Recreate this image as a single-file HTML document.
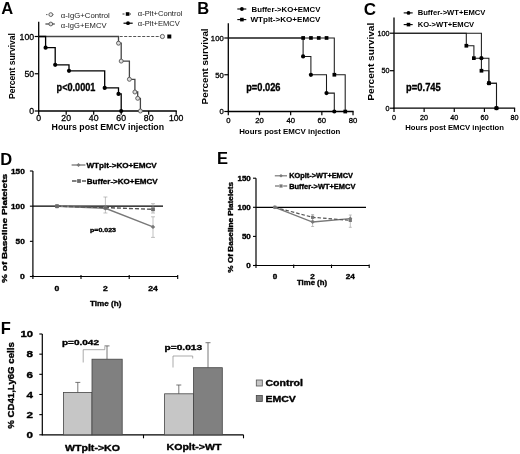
<!DOCTYPE html>
<html lang="en">
<head>
<meta charset="utf-8">
<title>Figure</title>
<style>html,body{margin:0;padding:0;background:#fff}svg{display:block;filter:blur(0.3px)}</style>
</head>
<body>
<svg width="520" height="454" viewBox="0 0 520 454" font-family="Liberation Sans, Arial, sans-serif">
<rect width="520" height="454" fill="#fff"/>
<text x="1.2" y="13.8" font-size="16.5" font-weight="bold" text-anchor="start" fill="#000" >A</text>
<text x="197.2" y="13.8" font-size="16.5" font-weight="bold" text-anchor="start" fill="#000" >B</text>
<text x="363.8" y="14.7" font-size="17" font-weight="bold" text-anchor="start" fill="#000" >C</text>
<text x="0.2" y="164.7" font-size="16.5" font-weight="bold" text-anchor="start" fill="#000" >D</text>
<text x="217" y="164.3" font-size="16.5" font-weight="bold" text-anchor="start" fill="#000" >E</text>
<text x="0.8" y="333.9" font-size="16.5" font-weight="bold" text-anchor="start" fill="#000" >F</text>
<line x1="38.7" y1="21.8" x2="38.7" y2="111.6" stroke="#000" stroke-width="1.3" />
<line x1="38.1" y1="111" x2="176.79999999999998" y2="111" stroke="#000" stroke-width="1.3" />
<line x1="34.7" y1="111.0" x2="38.7" y2="111.0" stroke="#000" stroke-width="1.2" />
<text x="34.1" y="114.1" font-size="8.7" font-weight="normal" text-anchor="end" fill="#000" stroke="#000" stroke-width="0.3">0</text>
<line x1="34.7" y1="73.75" x2="38.7" y2="73.75" stroke="#000" stroke-width="1.2" />
<text x="34.1" y="76.8" font-size="8.7" font-weight="normal" text-anchor="end" fill="#000" stroke="#000" stroke-width="0.3">50</text>
<line x1="34.7" y1="36.5" x2="38.7" y2="36.5" stroke="#000" stroke-width="1.2" />
<text x="34.1" y="39.6" font-size="8.7" font-weight="normal" text-anchor="end" fill="#000" stroke="#000" stroke-width="0.3">100</text>
<line x1="38.7" y1="111" x2="38.7" y2="114.8" stroke="#000" stroke-width="1.2" />
<text x="38.7" y="121.3" font-size="8.7" font-weight="normal" text-anchor="middle" fill="#000" stroke="#000" stroke-width="0.3">0</text>
<line x1="66.2" y1="111" x2="66.2" y2="114.8" stroke="#000" stroke-width="1.2" />
<text x="66.2" y="121.3" font-size="8.7" font-weight="normal" text-anchor="middle" fill="#000" stroke="#000" stroke-width="0.3">20</text>
<line x1="93.7" y1="111" x2="93.7" y2="114.8" stroke="#000" stroke-width="1.2" />
<text x="93.7" y="121.3" font-size="8.7" font-weight="normal" text-anchor="middle" fill="#000" stroke="#000" stroke-width="0.3">40</text>
<line x1="121.2" y1="111" x2="121.2" y2="114.8" stroke="#000" stroke-width="1.2" />
<text x="121.2" y="121.3" font-size="8.7" font-weight="normal" text-anchor="middle" fill="#000" stroke="#000" stroke-width="0.3">60</text>
<line x1="148.7" y1="111" x2="148.7" y2="114.8" stroke="#000" stroke-width="1.2" />
<text x="148.7" y="121.3" font-size="8.7" font-weight="normal" text-anchor="middle" fill="#000" stroke="#000" stroke-width="0.3">80</text>
<line x1="176.2" y1="111" x2="176.2" y2="114.8" stroke="#000" stroke-width="1.2" />
<text x="176.2" y="121.3" font-size="8.7" font-weight="normal" text-anchor="middle" fill="#000" stroke="#000" stroke-width="0.3">100</text>
<text x="14.5" y="66" font-size="8.6" font-weight="bold" text-anchor="middle" fill="#000" textLength="66" lengthAdjust="spacingAndGlyphs" transform="rotate(-90 14.5 66)" >Percent survival</text>
<text x="107.8" y="130.3" font-size="8.8" font-weight="bold" text-anchor="middle" fill="#000" textLength="112.5" lengthAdjust="spacingAndGlyphs" >Hours post EMCV injection</text>
<line x1="38.7" y1="36.5" x2="162.45" y2="36.5" stroke="#555" stroke-width="1" stroke-dasharray="3 1.5"/>
<path d="M38.7,36.5 H118.5 V43.2 H121.2 V61.1 H129.4 V79.3 H134.9 V92.0 H137.7 V98.3 H140.4 V111.0" fill="none" stroke="#444" stroke-width="1.3"/>
<circle cx="118.5" cy="43.2" r="2" fill="#ddd" stroke="#555" stroke-width="0.9"/>
<circle cx="121.2" cy="61.1" r="2" fill="#ddd" stroke="#555" stroke-width="0.9"/>
<circle cx="129.4" cy="79.3" r="2" fill="#ddd" stroke="#555" stroke-width="0.9"/>
<circle cx="134.9" cy="92.0" r="2" fill="#ddd" stroke="#555" stroke-width="0.9"/>
<circle cx="137.7" cy="98.3" r="2" fill="#ddd" stroke="#555" stroke-width="0.9"/>
<circle cx="140.4" cy="111.0" r="2" fill="#ddd" stroke="#555" stroke-width="0.9"/>
<path d="M38.7,36.5 H45.6 V47.7 H55.2 V64.8 H69.0 V70.8 H104.7 V87.9 H118.5 V93.9 H121.2 V111.0" fill="none" stroke="#000" stroke-width="1.3"/>
<circle cx="45.6" cy="47.7" r="2.1" fill="#000" stroke="none" stroke-width="1"/>
<circle cx="55.2" cy="64.8" r="2.1" fill="#000" stroke="none" stroke-width="1"/>
<circle cx="69.0" cy="70.8" r="2.1" fill="#000" stroke="none" stroke-width="1"/>
<circle cx="104.7" cy="87.9" r="2.1" fill="#000" stroke="none" stroke-width="1"/>
<circle cx="118.5" cy="93.9" r="2.1" fill="#000" stroke="none" stroke-width="1"/>
<circle cx="121.2" cy="111.0" r="2.1" fill="#000" stroke="none" stroke-width="1"/>
<circle cx="162.4" cy="36.5" r="2.1" fill="#eee" stroke="#555" stroke-width="0.9"/>
<rect x="167.3" y="34.5" width="4" height="4" fill="#000" stroke="none" stroke-width="1"/>
<line x1="46" y1="14.6" x2="55" y2="14.6" stroke="#666" stroke-width="1" stroke-dasharray="1.5 1.5"/>
<circle cx="50.8" cy="14.6" r="1.9" fill="#eee" stroke="#555" stroke-width="0.9"/>
<line x1="45.4" y1="24" x2="54.8" y2="24" stroke="#444" stroke-width="1.2" />
<circle cx="50.8" cy="24.0" r="1.9" fill="#ddd" stroke="#555" stroke-width="0.9"/>
<text x="60.8" y="17.5" font-size="7.7" font-weight="normal" text-anchor="start" fill="#222" textLength="49" lengthAdjust="spacingAndGlyphs" >α-IgG+Control</text>
<text x="60.8" y="27.7" font-size="7.7" font-weight="normal" text-anchor="start" fill="#222" textLength="45.7" lengthAdjust="spacingAndGlyphs" >α-IgG+EMCV</text>
<line x1="122.5" y1="14" x2="131" y2="14" stroke="#333" stroke-width="1" stroke-dasharray="2 1.5"/>
<rect x="125.8" y="12.2" width="3.6" height="3.6" fill="#000" stroke="none" stroke-width="1"/>
<line x1="123.5" y1="23.2" x2="132.7" y2="23.2" stroke="#000" stroke-width="1.2" />
<circle cx="128.0" cy="23.2" r="1.9" fill="#000" stroke="none" stroke-width="1"/>
<text x="137.8" y="16.4" font-size="7.6" font-weight="normal" text-anchor="start" fill="#222" textLength="44.6" lengthAdjust="spacingAndGlyphs" >α-Plt+Control</text>
<text x="137.8" y="25.8" font-size="7.6" font-weight="normal" text-anchor="start" fill="#222" textLength="42" lengthAdjust="spacingAndGlyphs" >α-Plt+EMCV</text>
<text x="56.6" y="91.1" font-size="11.4" font-weight="bold" text-anchor="start" fill="#000" textLength="38.8" lengthAdjust="spacingAndGlyphs" stroke="#000" stroke-width="0.35" stroke-linejoin="round">p&lt;0.0001</text>
<line x1="228.3" y1="23.2" x2="228.3" y2="112.1" stroke="#000" stroke-width="1.3" />
<line x1="227.70000000000002" y1="111.5" x2="353.62" y2="111.5" stroke="#000" stroke-width="1.3" />
<line x1="224.3" y1="111.5" x2="228.3" y2="111.5" stroke="#000" stroke-width="1.2" />
<text x="223.70000000000002" y="114.3" font-size="7.7" font-weight="normal" text-anchor="end" fill="#000" stroke="#000" stroke-width="0.3">0</text>
<line x1="224.3" y1="74.75" x2="228.3" y2="74.75" stroke="#000" stroke-width="1.2" />
<text x="223.70000000000002" y="77.5" font-size="7.7" font-weight="normal" text-anchor="end" fill="#000" stroke="#000" stroke-width="0.3">50</text>
<line x1="224.3" y1="38.0" x2="228.3" y2="38.0" stroke="#000" stroke-width="1.2" />
<text x="223.70000000000002" y="40.8" font-size="7.7" font-weight="normal" text-anchor="end" fill="#000" stroke="#000" stroke-width="0.3">100</text>
<line x1="228.3" y1="111.5" x2="228.3" y2="115.3" stroke="#000" stroke-width="1.2" />
<text x="228.3" y="122.9" font-size="7.7" font-weight="normal" text-anchor="middle" fill="#000" stroke="#000" stroke-width="0.3">0</text>
<line x1="259.48" y1="111.5" x2="259.48" y2="115.3" stroke="#000" stroke-width="1.2" />
<text x="259.5" y="122.9" font-size="7.7" font-weight="normal" text-anchor="middle" fill="#000" stroke="#000" stroke-width="0.3">20</text>
<line x1="290.66" y1="111.5" x2="290.66" y2="115.3" stroke="#000" stroke-width="1.2" />
<text x="290.7" y="122.9" font-size="7.7" font-weight="normal" text-anchor="middle" fill="#000" stroke="#000" stroke-width="0.3">40</text>
<line x1="321.84000000000003" y1="111.5" x2="321.84000000000003" y2="115.3" stroke="#000" stroke-width="1.2" />
<text x="321.8" y="122.9" font-size="7.7" font-weight="normal" text-anchor="middle" fill="#000" stroke="#000" stroke-width="0.3">60</text>
<line x1="353.02" y1="111.5" x2="353.02" y2="115.3" stroke="#000" stroke-width="1.2" />
<text x="353.0" y="122.9" font-size="7.7" font-weight="normal" text-anchor="middle" fill="#000" stroke="#000" stroke-width="0.3">80</text>
<text x="208" y="66.4" font-size="9.2" font-weight="bold" text-anchor="middle" fill="#000" textLength="76" lengthAdjust="spacingAndGlyphs" transform="rotate(-90 208 66.4)" >Percent survival</text>
<text x="289.8" y="133.7" font-size="8" font-weight="bold" text-anchor="middle" fill="#000" textLength="101.3" lengthAdjust="spacingAndGlyphs" >Hours post EMCV injection</text>
<path d="M228.3,38.0 H303.1 V56.4 H310.9 V74.8 H326.5 V93.1 H334.3 V111.5" fill="none" stroke="#1a1a1a" stroke-width="1.05"/>
<circle cx="303.1" cy="56.4" r="2.1" fill="#000" stroke="none" stroke-width="1"/>
<circle cx="310.9" cy="74.8" r="2.1" fill="#000" stroke="none" stroke-width="1"/>
<circle cx="326.5" cy="93.1" r="2.1" fill="#000" stroke="none" stroke-width="1"/>
<circle cx="334.3" cy="111.5" r="2.1" fill="#000" stroke="none" stroke-width="1"/>
<path d="M228.3,38.0 H334.3 V74.8 H345.2 V111.5" fill="none" stroke="#1a1a1a" stroke-width="1.05"/>
<rect x="301.3" y="36.1" width="3.7" height="3.7" fill="#000" stroke="none" stroke-width="1"/>
<rect x="309.1" y="36.1" width="3.7" height="3.7" fill="#000" stroke="none" stroke-width="1"/>
<rect x="316.9" y="36.1" width="3.7" height="3.7" fill="#000" stroke="none" stroke-width="1"/>
<rect x="324.7" y="36.1" width="3.7" height="3.7" fill="#000" stroke="none" stroke-width="1"/>
<rect x="332.5" y="72.9" width="3.7" height="3.7" fill="#000" stroke="none" stroke-width="1"/>
<rect x="343.4" y="109.7" width="3.7" height="3.7" fill="#000" stroke="none" stroke-width="1"/>
<line x1="237.3" y1="9" x2="246.3" y2="9" stroke="#000" stroke-width="1.1" />
<circle cx="241.9" cy="9.0" r="1.9" fill="#000" stroke="none" stroke-width="1"/>
<line x1="237.3" y1="19.6" x2="246.3" y2="19.6" stroke="#000" stroke-width="1.1" />
<rect x="240.1" y="17.8" width="3.6" height="3.6" fill="#000" stroke="none" stroke-width="1"/>
<text x="251.5" y="11.9" font-size="7.9" font-weight="bold" text-anchor="start" fill="#000" textLength="68.9" lengthAdjust="spacingAndGlyphs" >Buffer-&gt;KO+EMCV</text>
<text x="250.4" y="22.1" font-size="7.9" font-weight="bold" text-anchor="start" fill="#000" textLength="70" lengthAdjust="spacingAndGlyphs" >WTplt-&gt;KO+EMCV</text>
<text x="246.2" y="90.8" font-size="11.4" font-weight="bold" text-anchor="start" fill="#000" textLength="34.3" lengthAdjust="spacingAndGlyphs" stroke="#000" stroke-width="0.35" stroke-linejoin="round">p=0.026</text>
<line x1="394" y1="17.6" x2="394" y2="108.8" stroke="#000" stroke-width="1.3" />
<line x1="393.4" y1="108.2" x2="515.16" y2="108.2" stroke="#000" stroke-width="1.3" />
<line x1="390" y1="108.2" x2="394" y2="108.2" stroke="#000" stroke-width="1.2" />
<text x="389.4" y="110.8" font-size="7.2" font-weight="normal" text-anchor="end" fill="#000" stroke="#000" stroke-width="0.3">0</text>
<line x1="390" y1="70.7" x2="394" y2="70.7" stroke="#000" stroke-width="1.2" />
<text x="389.4" y="73.3" font-size="7.2" font-weight="normal" text-anchor="end" fill="#000" stroke="#000" stroke-width="0.3">50</text>
<line x1="390" y1="33.2" x2="394" y2="33.2" stroke="#000" stroke-width="1.2" />
<text x="389.4" y="35.8" font-size="7.2" font-weight="normal" text-anchor="end" fill="#000" stroke="#000" stroke-width="0.3">100</text>
<line x1="394.0" y1="108.2" x2="394.0" y2="112.0" stroke="#000" stroke-width="1.2" />
<text x="394.0" y="119.6" font-size="7.2" font-weight="normal" text-anchor="middle" fill="#000" stroke="#000" stroke-width="0.3">0</text>
<line x1="424.14" y1="108.2" x2="424.14" y2="112.0" stroke="#000" stroke-width="1.2" />
<text x="424.1" y="119.6" font-size="7.2" font-weight="normal" text-anchor="middle" fill="#000" stroke="#000" stroke-width="0.3">20</text>
<line x1="454.28" y1="108.2" x2="454.28" y2="112.0" stroke="#000" stroke-width="1.2" />
<text x="454.3" y="119.6" font-size="7.2" font-weight="normal" text-anchor="middle" fill="#000" stroke="#000" stroke-width="0.3">40</text>
<line x1="484.41999999999996" y1="108.2" x2="484.41999999999996" y2="112.0" stroke="#000" stroke-width="1.2" />
<text x="484.4" y="119.6" font-size="7.2" font-weight="normal" text-anchor="middle" fill="#000" stroke="#000" stroke-width="0.3">60</text>
<line x1="514.56" y1="108.2" x2="514.56" y2="112.0" stroke="#000" stroke-width="1.2" />
<text x="514.6" y="119.6" font-size="7.2" font-weight="normal" text-anchor="middle" fill="#000" stroke="#000" stroke-width="0.3">80</text>
<text x="373.9" y="61.7" font-size="9.2" font-weight="bold" text-anchor="middle" fill="#000" textLength="78" lengthAdjust="spacingAndGlyphs" transform="rotate(-90 373.9 61.7)" >Percent survival</text>
<text x="454.6" y="129.8" font-size="7.8" font-weight="bold" text-anchor="middle" fill="#000" textLength="98.8" lengthAdjust="spacingAndGlyphs" >Hours post EMCV injection</text>
<path d="M394,33.2 H466.3 V45.7 H473.9 V58.2 H481.4 V70.7 H488.9 V83.2 H496.5 V108.2" fill="none" stroke="#1a1a1a" stroke-width="1.05"/>
<path d="M394,33.2 H481.4 V58.2 H488.9 V83.2 H496.5 V108.2" fill="none" stroke="#1a1a1a" stroke-width="1.05"/>
<rect x="464.5" y="43.9" width="3.7" height="3.7" fill="#000" stroke="none" stroke-width="1"/>
<rect x="472.0" y="56.3" width="3.7" height="3.7" fill="#000" stroke="none" stroke-width="1"/>
<rect x="479.6" y="68.9" width="3.7" height="3.7" fill="#000" stroke="none" stroke-width="1"/>
<rect x="487.1" y="81.4" width="3.7" height="3.7" fill="#000" stroke="none" stroke-width="1"/>
<rect x="494.6" y="106.4" width="3.7" height="3.7" fill="#000" stroke="none" stroke-width="1"/>
<circle cx="481.4" cy="58.2" r="2.1" fill="#000" stroke="none" stroke-width="1"/>
<circle cx="488.9" cy="83.2" r="2.1" fill="#000" stroke="none" stroke-width="1"/>
<circle cx="496.5" cy="108.2" r="2.1" fill="#000" stroke="none" stroke-width="1"/>
<line x1="403.7" y1="12.9" x2="412.7" y2="12.9" stroke="#000" stroke-width="1.1" />
<circle cx="408.5" cy="12.9" r="1.9" fill="#000" stroke="none" stroke-width="1"/>
<line x1="403.7" y1="24.6" x2="412.7" y2="24.6" stroke="#000" stroke-width="1.1" />
<rect x="406.7" y="22.8" width="3.6" height="3.6" fill="#000" stroke="none" stroke-width="1"/>
<text x="417.7" y="15.4" font-size="7.7" font-weight="bold" text-anchor="start" fill="#000" textLength="67.7" lengthAdjust="spacingAndGlyphs" >Buffer-&gt;WT+EMCV</text>
<text x="417.7" y="27.3" font-size="7.7" font-weight="bold" text-anchor="start" fill="#000" textLength="56.5" lengthAdjust="spacingAndGlyphs" >KO-&gt;WT+EMCV</text>
<text x="406.1" y="90.8" font-size="11.4" font-weight="bold" text-anchor="start" fill="#000" textLength="34.7" lengthAdjust="spacingAndGlyphs" stroke="#000" stroke-width="0.35" stroke-linejoin="round">p=0.745</text>
<line x1="32.9" y1="171" x2="32.9" y2="277.0" stroke="#000" stroke-width="1.2" />
<line x1="32.4" y1="276.5" x2="178" y2="276.5" stroke="#000" stroke-width="1.2" />
<line x1="29.9" y1="276.5" x2="32.9" y2="276.5" stroke="#000" stroke-width="1.1" />
<text x="24.8" y="279.2" font-size="7.4" font-weight="bold" text-anchor="end" fill="#000" textLength="4.8" lengthAdjust="spacingAndGlyphs" stroke="#000" stroke-width="0.35" stroke-linejoin="round">0</text>
<line x1="29.9" y1="241.33333333333331" x2="32.9" y2="241.33333333333331" stroke="#000" stroke-width="1.1" />
<text x="24.8" y="244.0" font-size="7.4" font-weight="bold" text-anchor="end" fill="#000" textLength="9.2" lengthAdjust="spacingAndGlyphs" stroke="#000" stroke-width="0.35" stroke-linejoin="round">50</text>
<line x1="29.9" y1="206.16666666666666" x2="32.9" y2="206.16666666666666" stroke="#000" stroke-width="1.1" />
<text x="24.8" y="208.9" font-size="7.4" font-weight="bold" text-anchor="end" fill="#000" textLength="13.8" lengthAdjust="spacingAndGlyphs" stroke="#000" stroke-width="0.35" stroke-linejoin="round">100</text>
<line x1="29.9" y1="171.0" x2="32.9" y2="171.0" stroke="#000" stroke-width="1.1" />
<text x="24.8" y="173.7" font-size="7.4" font-weight="bold" text-anchor="end" fill="#000" textLength="13.8" lengthAdjust="spacingAndGlyphs" stroke="#000" stroke-width="0.35" stroke-linejoin="round">150</text>
<line x1="32.9" y1="275.0" x2="32.9" y2="279.0" stroke="#000" stroke-width="1.1" />
<line x1="81" y1="275.0" x2="81" y2="279.0" stroke="#000" stroke-width="1.1" />
<line x1="129.2" y1="275.0" x2="129.2" y2="279.0" stroke="#000" stroke-width="1.1" />
<line x1="177.7" y1="275.0" x2="177.7" y2="279.0" stroke="#000" stroke-width="1.1" />
<text x="57" y="291.4" font-size="7.4" font-weight="bold" text-anchor="middle" fill="#000" textLength="4.8" lengthAdjust="spacingAndGlyphs" stroke="#000" stroke-width="0.35" stroke-linejoin="round">0</text>
<text x="105.4" y="291.4" font-size="7.4" font-weight="bold" text-anchor="middle" fill="#000" textLength="4.8" lengthAdjust="spacingAndGlyphs" stroke="#000" stroke-width="0.35" stroke-linejoin="round">2</text>
<text x="153" y="291.4" font-size="7.4" font-weight="bold" text-anchor="middle" fill="#000" textLength="9.6" lengthAdjust="spacingAndGlyphs" stroke="#000" stroke-width="0.35" stroke-linejoin="round">24</text>
<text x="105.7" y="306" font-size="7.8" font-weight="bold" text-anchor="middle" fill="#000" textLength="31.4" lengthAdjust="spacingAndGlyphs" stroke="#000" stroke-width="0.35" stroke-linejoin="round">Time (h)</text>
<text x="7.5" y="228.4" font-size="8" font-weight="bold" text-anchor="middle" fill="#000" textLength="109" lengthAdjust="spacingAndGlyphs" transform="rotate(-90 7.5 228.4)" stroke="#000" stroke-width="0.35" stroke-linejoin="round">% of Baseline Platelets</text>
<line x1="32.9" y1="206.16666666666666" x2="163" y2="206.16666666666666" stroke="#000" stroke-width="1.3" />
<line x1="105.4" y1="197" x2="105.4" y2="213" stroke="#999" stroke-width="0.6" />
<line x1="103.4" y1="197" x2="107.4" y2="197" stroke="#999" stroke-width="0.6" />
<line x1="103.4" y1="213" x2="107.4" y2="213" stroke="#999" stroke-width="0.6" />
<line x1="153" y1="216.8" x2="153" y2="237.4" stroke="#999" stroke-width="0.6" />
<line x1="151" y1="216.8" x2="155" y2="216.8" stroke="#999" stroke-width="0.6" />
<line x1="151" y1="237.4" x2="155" y2="237.4" stroke="#999" stroke-width="0.6" />
<line x1="153" y1="203.7" x2="153" y2="213" stroke="#999" stroke-width="0.6" />
<line x1="151" y1="203.7" x2="155" y2="203.7" stroke="#999" stroke-width="0.6" />
<line x1="151" y1="213" x2="155" y2="213" stroke="#999" stroke-width="0.6" />
<polyline points="57,206.2 105.4,208.3 153,226.9" fill="none" stroke="#787878" stroke-width="1.4"/>
<polyline points="57,206.2 105.4,207.6 153,209.3" fill="none" stroke="#555" stroke-width="1.4" stroke-dasharray="4 2"/>
<path d="M57,204.0 L59.2,206.2 L57,208.4 L54.8,206.2Z" fill="#787878"/>
<path d="M105.4,206.1 L107.60000000000001,208.3 L105.4,210.5 L103.2,208.3Z" fill="#787878"/>
<path d="M153,224.7 L155.2,226.9 L153,229.1 L150.8,226.9Z" fill="#787878"/>
<rect x="55.1" y="204.3" width="3.8" height="3.8" fill="#6a6a6a" stroke="none" stroke-width="1"/>
<rect x="103.5" y="205.7" width="3.8" height="3.8" fill="#6a6a6a" stroke="none" stroke-width="1"/>
<rect x="151.1" y="207.4" width="3.8" height="3.8" fill="#6a6a6a" stroke="none" stroke-width="1"/>
<line x1="71.6" y1="165" x2="85.4" y2="165" stroke="#787878" stroke-width="1.3" />
<path d="M78.5,163 L80.5,165 L78.5,167 L76.5,165Z" fill="#787878"/>
<line x1="72" y1="181" x2="86" y2="181" stroke="#555" stroke-width="1.3" stroke-dasharray="4.5 5.5 4 10"/>
<rect x="77.1" y="179.1" width="3.8" height="3.8" fill="#6a6a6a" stroke="none" stroke-width="1"/>
<text x="86.4" y="167.7" font-size="8" font-weight="bold" text-anchor="start" fill="#000" textLength="70.4" lengthAdjust="spacingAndGlyphs" stroke="#000" stroke-width="0.35" stroke-linejoin="round">WTplt-&gt;KO+EMCV</text>
<text x="86.8" y="183.7" font-size="8" font-weight="bold" text-anchor="start" fill="#000" textLength="70.9" lengthAdjust="spacingAndGlyphs" stroke="#000" stroke-width="0.35" stroke-linejoin="round">Buffer-&gt;KO+EMCV</text>
<text x="90" y="232" font-size="6" font-weight="bold" text-anchor="start" fill="#000" textLength="26" lengthAdjust="spacingAndGlyphs" stroke="#000" stroke-width="0.35" stroke-linejoin="round">p=0.023</text>
<line x1="256" y1="178.2" x2="256" y2="266.0" stroke="#000" stroke-width="1.2" />
<line x1="255.5" y1="265.5" x2="369.2" y2="265.5" stroke="#000" stroke-width="1.2" />
<line x1="253" y1="265.5" x2="256" y2="265.5" stroke="#000" stroke-width="1.1" />
<text x="250.8" y="268.0" font-size="6.8" font-weight="bold" text-anchor="end" fill="#000" textLength="4.5" lengthAdjust="spacingAndGlyphs" stroke="#000" stroke-width="0.35" stroke-linejoin="round">0</text>
<line x1="253" y1="236.4" x2="256" y2="236.4" stroke="#000" stroke-width="1.1" />
<text x="250.8" y="238.9" font-size="6.8" font-weight="bold" text-anchor="end" fill="#000" textLength="8.9" lengthAdjust="spacingAndGlyphs" stroke="#000" stroke-width="0.35" stroke-linejoin="round">50</text>
<line x1="253" y1="207.29999999999998" x2="256" y2="207.29999999999998" stroke="#000" stroke-width="1.1" />
<text x="250.8" y="209.8" font-size="6.8" font-weight="bold" text-anchor="end" fill="#000" textLength="13.3" lengthAdjust="spacingAndGlyphs" stroke="#000" stroke-width="0.35" stroke-linejoin="round">100</text>
<line x1="253" y1="178.2" x2="256" y2="178.2" stroke="#000" stroke-width="1.1" />
<text x="250.8" y="180.7" font-size="6.8" font-weight="bold" text-anchor="end" fill="#000" textLength="13.3" lengthAdjust="spacingAndGlyphs" stroke="#000" stroke-width="0.35" stroke-linejoin="round">150</text>
<line x1="256" y1="264.5" x2="256" y2="268.0" stroke="#000" stroke-width="1.1" />
<line x1="293.7" y1="264.5" x2="293.7" y2="268.0" stroke="#000" stroke-width="1.1" />
<line x1="331.5" y1="264.5" x2="331.5" y2="268.0" stroke="#000" stroke-width="1.1" />
<line x1="369.2" y1="264.5" x2="369.2" y2="268.0" stroke="#000" stroke-width="1.1" />
<text x="274.9" y="278.5" font-size="6.8" font-weight="bold" text-anchor="middle" fill="#000" textLength="4.5" lengthAdjust="spacingAndGlyphs" stroke="#000" stroke-width="0.35" stroke-linejoin="round">0</text>
<text x="312.6" y="278.5" font-size="6.8" font-weight="bold" text-anchor="middle" fill="#000" textLength="4.5" lengthAdjust="spacingAndGlyphs" stroke="#000" stroke-width="0.35" stroke-linejoin="round">2</text>
<text x="350.3" y="278.5" font-size="6.8" font-weight="bold" text-anchor="middle" fill="#000" textLength="9.2" lengthAdjust="spacingAndGlyphs" stroke="#000" stroke-width="0.35" stroke-linejoin="round">24</text>
<text x="312" y="284.6" font-size="7" font-weight="bold" text-anchor="middle" fill="#000" textLength="30" lengthAdjust="spacingAndGlyphs" stroke="#000" stroke-width="0.35" stroke-linejoin="round">Time (h)</text>
<text x="233.5" y="227.3" font-size="7" font-weight="bold" text-anchor="middle" fill="#000" textLength="90.7" lengthAdjust="spacingAndGlyphs" transform="rotate(-90 233.5 227.3)" stroke="#000" stroke-width="0.35" stroke-linejoin="round">% Of Baseline Platelets</text>
<line x1="256" y1="207.29999999999998" x2="366" y2="207.29999999999998" stroke="#000" stroke-width="1.3" />
<line x1="312.6" y1="217.5" x2="312.6" y2="226.5" stroke="#999" stroke-width="0.6" />
<line x1="311.1" y1="217.5" x2="314.1" y2="217.5" stroke="#999" stroke-width="0.6" />
<line x1="311.1" y1="226.5" x2="314.1" y2="226.5" stroke="#999" stroke-width="0.6" />
<line x1="350.3" y1="215" x2="350.3" y2="227.3" stroke="#999" stroke-width="0.6" />
<line x1="348.8" y1="215" x2="351.8" y2="215" stroke="#999" stroke-width="0.6" />
<line x1="348.8" y1="227.3" x2="351.8" y2="227.3" stroke="#999" stroke-width="0.6" />
<line x1="312.6" y1="214.5" x2="312.6" y2="220.5" stroke="#999" stroke-width="0.6" />
<line x1="311.1" y1="214.5" x2="314.1" y2="214.5" stroke="#999" stroke-width="0.6" />
<line x1="311.1" y1="220.5" x2="314.1" y2="220.5" stroke="#999" stroke-width="0.6" />
<polyline points="274.9,207.3 312.6,222 350.3,218.6" fill="none" stroke="#787878" stroke-width="1.3"/>
<polyline points="274.9,207.3 312.6,217.3 350.3,220.4" fill="none" stroke="#555" stroke-width="1.2" stroke-dasharray="3.5 2"/>
<path d="M274.9,205.3 L276.9,207.3 L274.9,209.3 L272.9,207.3Z" fill="#787878"/>
<path d="M312.6,220.0 L314.6,222.0 L312.6,224.0 L310.6,222.0Z" fill="#787878"/>
<path d="M350.3,216.6 L352.3,218.6 L350.3,220.6 L348.3,218.6Z" fill="#787878"/>
<rect x="273.3" y="205.7" width="3.2" height="3.2" fill="#777" stroke="none" stroke-width="1"/>
<rect x="311.0" y="215.7" width="3.2" height="3.2" fill="#777" stroke="none" stroke-width="1"/>
<rect x="348.7" y="218.8" width="3.2" height="3.2" fill="#777" stroke="none" stroke-width="1"/>
<line x1="274.8" y1="175.8" x2="287" y2="175.8" stroke="#787878" stroke-width="1.2" />
<path d="M281,174 L282.8,175.8 L281,177.6 L279.2,175.8Z" fill="#787878"/>
<line x1="275" y1="186" x2="287.5" y2="186" stroke="#555" stroke-width="1.2" stroke-dasharray="4 4.2 4 10"/>
<rect x="279.4" y="184.4" width="3.2" height="3.2" fill="#777" stroke="none" stroke-width="1"/>
<text x="289.2" y="178.2" font-size="7" font-weight="bold" text-anchor="start" fill="#000" textLength="63.8" lengthAdjust="spacingAndGlyphs" stroke="#000" stroke-width="0.35" stroke-linejoin="round">KOplt-&gt;WT+EMCV</text>
<text x="289.2" y="188.5" font-size="7" font-weight="bold" text-anchor="start" fill="#000" textLength="66.2" lengthAdjust="spacingAndGlyphs" stroke="#000" stroke-width="0.35" stroke-linejoin="round">Buffer-&gt;WT+EMCV</text>
<line x1="42.3" y1="334" x2="42.3" y2="435.3" stroke="#000" stroke-width="1.2" />
<line x1="41.8" y1="434.8" x2="243.5" y2="434.8" stroke="#000" stroke-width="1.2" />
<line x1="39.3" y1="434.8" x2="42.3" y2="434.8" stroke="#000" stroke-width="1.1" />
<text x="33" y="438.0" font-size="9" font-weight="bold" text-anchor="end" fill="#000" textLength="6.5" lengthAdjust="spacingAndGlyphs" stroke="#000" stroke-width="0.35" stroke-linejoin="round">0</text>
<line x1="39.3" y1="414.64" x2="42.3" y2="414.64" stroke="#000" stroke-width="1.1" />
<text x="33" y="417.8" font-size="9" font-weight="bold" text-anchor="end" fill="#000" textLength="6.5" lengthAdjust="spacingAndGlyphs" stroke="#000" stroke-width="0.35" stroke-linejoin="round">2</text>
<line x1="39.3" y1="394.48" x2="42.3" y2="394.48" stroke="#000" stroke-width="1.1" />
<text x="33" y="397.7" font-size="9" font-weight="bold" text-anchor="end" fill="#000" textLength="6.5" lengthAdjust="spacingAndGlyphs" stroke="#000" stroke-width="0.35" stroke-linejoin="round">4</text>
<line x1="39.3" y1="374.32" x2="42.3" y2="374.32" stroke="#000" stroke-width="1.1" />
<text x="33" y="377.5" font-size="9" font-weight="bold" text-anchor="end" fill="#000" textLength="6.5" lengthAdjust="spacingAndGlyphs" stroke="#000" stroke-width="0.35" stroke-linejoin="round">6</text>
<line x1="39.3" y1="354.15999999999997" x2="42.3" y2="354.15999999999997" stroke="#000" stroke-width="1.1" />
<text x="33" y="357.4" font-size="9" font-weight="bold" text-anchor="end" fill="#000" textLength="6.5" lengthAdjust="spacingAndGlyphs" stroke="#000" stroke-width="0.35" stroke-linejoin="round">8</text>
<line x1="39.3" y1="334.0" x2="42.3" y2="334.0" stroke="#000" stroke-width="1.1" />
<text x="33" y="337.2" font-size="9" font-weight="bold" text-anchor="end" fill="#000" textLength="12.6" lengthAdjust="spacingAndGlyphs" stroke="#000" stroke-width="0.35" stroke-linejoin="round">10</text>
<line x1="143.5" y1="434.8" x2="143.5" y2="438.3" stroke="#000" stroke-width="1.1" />
<line x1="243.5" y1="434.8" x2="243.5" y2="438.3" stroke="#000" stroke-width="1.1" />
<line x1="77.8" y1="382.4" x2="77.8" y2="392.5" stroke="#555" stroke-width="0.8" />
<line x1="75.3" y1="382.4" x2="80.3" y2="382.4" stroke="#555" stroke-width="0.8" />
<line x1="107" y1="345.9" x2="107" y2="359.2" stroke="#555" stroke-width="0.8" />
<line x1="104.5" y1="345.9" x2="109.5" y2="345.9" stroke="#555" stroke-width="0.8" />
<line x1="178.8" y1="385" x2="178.8" y2="393.8" stroke="#555" stroke-width="0.8" />
<line x1="176.3" y1="385" x2="181.3" y2="385" stroke="#555" stroke-width="0.8" />
<line x1="208" y1="342.7" x2="208" y2="367.7" stroke="#555" stroke-width="0.8" />
<line x1="205.5" y1="342.7" x2="210.5" y2="342.7" stroke="#555" stroke-width="0.8" />
<rect x="63.5" y="392.5" width="28.5" height="42.3" fill="#c6c6c6" stroke="#444" stroke-width="0.8"/>
<rect x="92" y="359.2" width="30.2" height="75.6" fill="#808080" stroke="#444" stroke-width="0.8"/>
<rect x="164.6" y="393.8" width="28.9" height="41.0" fill="#c6c6c6" stroke="#444" stroke-width="0.8"/>
<rect x="193.5" y="367.7" width="28.8" height="67.1" fill="#808080" stroke="#444" stroke-width="0.8"/>
<path d="M83.2,362.5 V349.7 H104.8 V346.5" fill="none" stroke="#888" stroke-width="0.7"/>
<path d="M173,367.5 V356 H192.7 V358.5" fill="none" stroke="#888" stroke-width="0.7"/>
<text x="62" y="345.3" font-size="7.5" font-weight="bold" text-anchor="start" fill="#000" textLength="37" lengthAdjust="spacingAndGlyphs" stroke="#000" stroke-width="0.35" stroke-linejoin="round">p=0.042</text>
<text x="164.6" y="350" font-size="7.5" font-weight="bold" text-anchor="start" fill="#000" textLength="37.5" lengthAdjust="spacingAndGlyphs" stroke="#000" stroke-width="0.35" stroke-linejoin="round">p=0.013</text>
<text x="92.5" y="450.8" font-size="8.5" font-weight="bold" text-anchor="middle" fill="#000" textLength="55" lengthAdjust="spacingAndGlyphs" stroke="#000" stroke-width="0.35" stroke-linejoin="round">WTplt-&gt;KO</text>
<text x="194" y="450.3" font-size="8.5" font-weight="bold" text-anchor="middle" fill="#000" textLength="55" lengthAdjust="spacingAndGlyphs" stroke="#000" stroke-width="0.35" stroke-linejoin="round">KOplt-&gt;WT</text>
<text x="13.5" y="385.5" font-size="8.8" font-weight="bold" text-anchor="middle" fill="#000" textLength="86.6" lengthAdjust="spacingAndGlyphs" transform="rotate(-90 13.5 385.5)" stroke="#000" stroke-width="0.35" stroke-linejoin="round">% CD41,Ly6G cells</text>
<rect x="256.3" y="380" width="6" height="6" fill="#c6c6c6" stroke="#555" stroke-width="0.8"/>
<rect x="256.3" y="395.5" width="6" height="6" fill="#808080" stroke="#444" stroke-width="0.8"/>
<text x="265.4" y="386.3" font-size="8.8" font-weight="bold" text-anchor="start" fill="#000" textLength="37.5" lengthAdjust="spacingAndGlyphs" stroke="#000" stroke-width="0.35" stroke-linejoin="round">Control</text>
<text x="265.4" y="401.8" font-size="8.8" font-weight="bold" text-anchor="start" fill="#000" textLength="30.5" lengthAdjust="spacingAndGlyphs" stroke="#000" stroke-width="0.35" stroke-linejoin="round">EMCV</text>
</svg>
</body>
</html>
